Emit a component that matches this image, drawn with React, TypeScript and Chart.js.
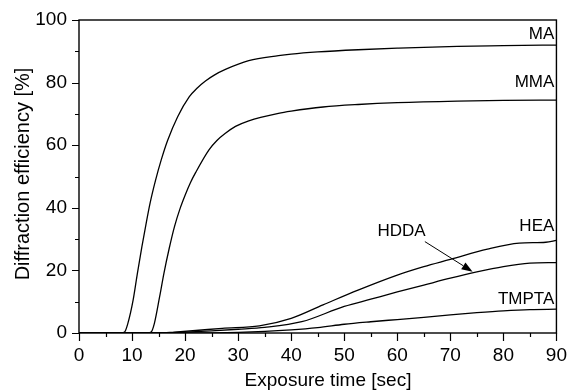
import React, { useEffect, useRef } from "react";
import { Chart, registerables } from "chart.js";

Chart.register(...registerables);

const xTickValues = [0, 10, 20, 30, 40, 50, 60, 70, 80, 90];
const yTickValues = [0, 20, 40, 60, 80, 100];
const xMinorTicks = [5, 15, 25, 35, 45, 55, 65, 75, 85];
const yMinorTicks = [10, 30, 50, 70, 90];

const maX = [0, 8, 8.6, 9.2, 10.2, 11.0, 11.85, 12.6, 13.4, 14.4, 15.5, 16.7, 18.6, 20.8, 22.3, 23.9, 25.5, 27.6, 32, 37.6, 40, 45, 52.6, 60, 71.3, 80, 90];
const maY = [0, 0, 0.3, 3, 10.5, 19, 27.5, 34.5, 41.5, 48.6, 55.3, 61.5, 69.1, 75.5, 78.3, 80.6, 82.4, 84.2, 87, 88.6, 89.1, 89.8, 90.5, 91, 91.6, 91.8, 92];

const mmaX = [0, 13, 13.6, 14.2, 15.2, 16, 17, 18, 19, 20, 21, 22, 24.5, 26, 27.6, 29.5, 32, 37.6, 40, 46, 52.6, 60, 71.3, 80, 90];
const mmaY = [0, 0, 0.3, 3, 11.6, 19, 27, 34, 39.5, 44, 48, 51.3, 58.5, 61.5, 63.8, 66, 67.8, 70.2, 70.9, 72.2, 73.0, 73.6, 74.1, 74.3, 74.4];

const heaX = [0, 15, 18, 22, 27, 34, 40, 46, 52.6, 60, 65, 70, 77, 83, 88, 90];
const heaY = [0, 0, 0.3, 0.8, 1.5, 2.3, 4.7, 9, 13.7, 18.5, 21.2, 23.5, 26.8, 28.7, 29, 29.6];

const hddaX = [0, 15, 20, 25, 30, 35, 42, 50, 55, 60, 65, 70, 75, 80, 85, 90];
const hddaY = [0, 0, 0.3, 0.7, 1.2, 1.8, 3.6, 8.5, 10.8, 13.1, 15.3, 17.5, 19.5, 21.2, 22.3, 22.5];

const tmptaX = [0, 20, 30, 40, 45, 50, 55, 60, 65, 70, 75, 80, 85, 90];
const tmptaY = [0, 0, 0.2, 1.0, 1.7, 2.8, 3.6, 4.3, 5.0, 5.8, 6.5, 7.1, 7.5, 7.6];

const seriesNames = ["MA", "MMA", "HEA", "HDDA", "TMPTA"];
const seriesX = [maX, mmaX, heaX, hddaX, tmptaX];
const seriesY = [maY, mmaY, heaY, hddaY, tmptaY];

// label anchors in data units
const labelTexts = ["MA", "MMA", "HEA", "HDDA", "TMPTA"];
const labelX = [89.6, 89.6, 89.6, 60.8, 89.6];
const labelY = [95.5, 80.2, 34.0, 32.6, 10.9];
const labelAlign = ["right", "right", "right", "center", "right"];

// arrow from HDDA label to HDDA curve (data units)
const arrowFrom = [65.2, 29.2];
const arrowTo = [74.2, 19.6];

const xTitle = "Exposure time [sec]";
const yTitle = "Diffraction efficiency [%]";

const FONT = "'Liberation Sans', Arial, sans-serif";

const decorPlugin = {
  id: "decor",
  afterDraw(chart: any) {
    const ctx = chart.ctx;
    const xs = chart.scales.x;
    const ys = chart.scales.y;
    const a = chart.chartArea;
    ctx.save();
    ctx.strokeStyle = "#000";
    ctx.fillStyle = "#000";
    ctx.lineWidth = 1.4;
    ctx.strokeRect(a.left, a.top, a.right - a.left, a.bottom - a.top);
    ctx.beginPath();
    for (const v of xTickValues) {
      const px = Math.round(xs.getPixelForValue(v)) + 0.5;
      ctx.moveTo(px, a.bottom);
      ctx.lineTo(px, a.bottom + 8);
    }
    for (const v of xMinorTicks) {
      const px = Math.round(xs.getPixelForValue(v)) + 0.5;
      ctx.moveTo(px, a.bottom);
      ctx.lineTo(px, a.bottom + 4);
    }
    for (const v of yTickValues) {
      const py = Math.round(ys.getPixelForValue(v)) + 0.5;
      ctx.moveTo(a.left, py);
      ctx.lineTo(a.left - 7, py);
    }
    for (const v of yMinorTicks) {
      const py = Math.round(ys.getPixelForValue(v)) + 0.5;
      ctx.moveTo(a.left, py);
      ctx.lineTo(a.left - 4, py);
    }
    ctx.lineWidth = 1.2;
    ctx.stroke();

    // series labels
    ctx.font = `17px ${FONT}`;
    ctx.textBaseline = "middle";
    labelTexts.forEach((t, i) => {
      ctx.textAlign = labelAlign[i];
      ctx.fillText(t, xs.getPixelForValue(labelX[i]), ys.getPixelForValue(labelY[i]));
    });

    // arrow
    const x1 = xs.getPixelForValue(arrowFrom[0]);
    const y1 = ys.getPixelForValue(arrowFrom[1]);
    const x2 = xs.getPixelForValue(arrowTo[0]);
    const y2 = ys.getPixelForValue(arrowTo[1]);
    const ang = Math.atan2(y2 - y1, x2 - x1);
    const hl = 11;
    const hw = 4;
    ctx.lineWidth = 1;
    ctx.beginPath();
    ctx.moveTo(x1, y1);
    ctx.lineTo(x2 - hl * Math.cos(ang), y2 - hl * Math.sin(ang));
    ctx.stroke();
    ctx.beginPath();
    ctx.moveTo(x2, y2);
    ctx.lineTo(x2 - hl * Math.cos(ang) + hw * Math.sin(ang), y2 - hl * Math.sin(ang) - hw * Math.cos(ang));
    ctx.lineTo(x2 - hl * Math.cos(ang) - hw * Math.sin(ang), y2 - hl * Math.sin(ang) + hw * Math.cos(ang));
    ctx.closePath();
    ctx.fill();

    // axis titles
    ctx.font = `19px ${FONT}`;
    ctx.textAlign = "center";
    ctx.textBaseline = "alphabetic";
    ctx.fillText(xTitle, 328, 386);
    ctx.save();
    ctx.translate(23, 174);
    ctx.rotate(-Math.PI / 2);
    ctx.font = `20px ${FONT}`;
    ctx.textBaseline = "middle";
    ctx.fillText(yTitle, 0, 0);
    ctx.restore();
    ctx.restore();
  },
};

export default function App() {
  const ref = useRef<HTMLCanvasElement | null>(null);
  useEffect(() => {
    if (!ref.current) return;
    const datasets = seriesNames.map((name, i) => ({
      label: name,
      data: seriesX[i].map((x, j) => ({ x, y: seriesY[i][j] })),
      showLine: true,
      pointRadius: 0,
      borderColor: "#000",
      borderWidth: 1.3,
      cubicInterpolationMode: "monotone" as const,
      fill: false,
    }));
    const chart = new Chart(ref.current, {
      type: "scatter",
      data: { datasets },
      options: {
        animation: false,
        responsive: false,
        maintainAspectRatio: false,
        layout: { padding: { top: 20, right: 10, left: 0, bottom: 0 } },
        plugins: { legend: { display: false }, tooltip: { enabled: false } },
        scales: {
          x: {
            type: "linear",
            min: 0,
            max: 90,
            afterBuildTicks: (s: any) => {
              s.ticks = xTickValues.map((v) => ({ value: v }));
            },
            ticks: { color: "#000", font: { size: 19, family: FONT }, padding: 3, maxRotation: 0 },
            grid: { display: false, drawTicks: true, tickLength: 8 },
            border: { display: false },
            afterFit: (s: any) => {
              s.height = 57;
            },
          },
          y: {
            type: "linear",
            min: 0,
            max: 100,
            afterBuildTicks: (s: any) => {
              s.ticks = yTickValues.map((v) => ({ value: v }));
            },
            ticks: { color: "#000", font: { size: 19, family: FONT }, padding: 5 },
            grid: { display: false, drawTicks: true, tickLength: 7 },
            border: { display: false },
            afterFit: (s: any) => {
              s.width = 79;
            },
          },
        },
      },
      plugins: [decorPlugin],
    });
    return () => chart.destroy();
  }, []);
  return (
    <div style={{ position: "fixed", left: 0, top: 0, width: 570, height: 390, background: "#fff" }}>
      <canvas ref={ref} width={570} height={390} style={{ width: 570, height: 390 }} />
    </div>
  );
}
